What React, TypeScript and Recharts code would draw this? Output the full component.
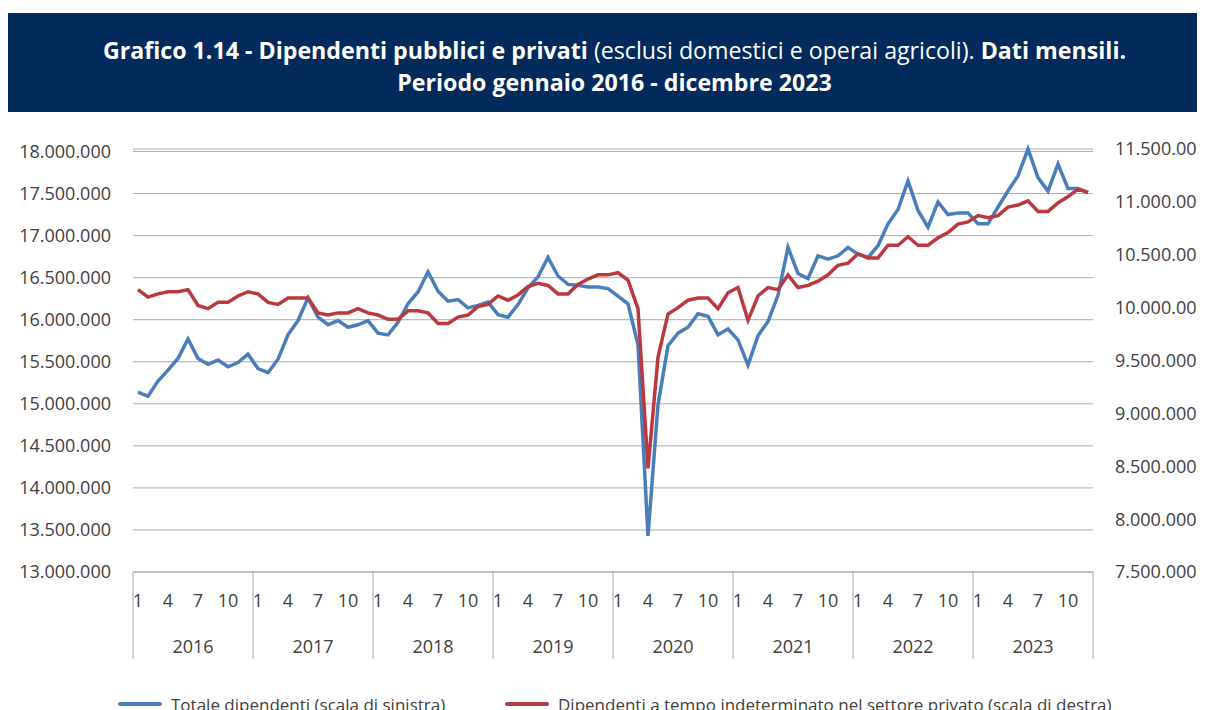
import React from "react";
import { CartesianGrid, Legend, Line, LineChart, XAxis, YAxis } from "recharts";

const years = [2016, 2017, 2018, 2019, 2020, 2021, 2022, 2023];
const months = [1, 2, 3, 4, 5, 6, 7, 8, 9, 10, 11, 12];
const shownMonths = [1, 4, 7, 10];

// Totale dipendenti (scala di sinistra)
const totaleDipendenti = [
  15140000, 15090000, 15270000, 15400000, 15540000, 15770000, 15540000, 15470000, 15520000, 15440000, 15490000, 15590000,
  15420000, 15370000, 15530000, 15820000, 15990000, 16260000, 16030000, 15940000, 15990000, 15910000, 15940000, 15990000,
  15840000, 15820000, 15970000, 16190000, 16330000, 16570000, 16340000, 16220000, 16240000, 16140000, 16170000, 16210000,
  16060000, 16030000, 16180000, 16380000, 16510000, 16740000, 16520000, 16420000, 16410000, 16390000, 16390000, 16370000,
  16280000, 16190000, 15700000, 13430000, 14990000, 15690000, 15840000, 15910000, 16070000, 16040000, 15820000, 15890000,
  15760000, 15460000, 15810000, 15980000, 16290000, 16860000, 16550000, 16490000, 16760000, 16720000, 16760000, 16860000,
  16780000, 16740000, 16880000, 17140000, 17310000, 17650000, 17300000, 17100000, 17400000, 17250000, 17270000, 17270000,
  17140000, 17140000, 17340000, 17530000, 17710000, 18030000, 17690000, 17530000, 17850000, 17560000, 17560000, 17510000
];

// Dipendenti a tempo indeterminato nel settore privato (scala di destra)
const indeterminatoPrivato = [
  10170000, 10100000, 10130000, 10150000, 10150000, 10170000, 10020000, 9990000, 10050000, 10050000, 10110000, 10150000,
  10130000, 10050000, 10030000, 10090000, 10090000, 10090000, 9950000, 9930000, 9950000, 9950000, 9990000, 9950000,
  9930000, 9890000, 9890000, 9970000, 9970000, 9950000, 9850000, 9850000, 9910000, 9930000, 10010000, 10030000,
  10110000, 10070000, 10120000, 10200000, 10230000, 10210000, 10130000, 10130000, 10220000, 10270000, 10310000, 10310000,
  10330000, 10260000, 9990000, 8480000, 9530000, 9940000, 10000000, 10070000, 10090000, 10090000, 9990000, 10140000,
  10190000, 9880000, 10110000, 10190000, 10170000, 10310000, 10190000, 10210000, 10250000, 10310000, 10400000, 10420000,
  10510000, 10470000, 10470000, 10590000, 10590000, 10670000, 10590000, 10590000, 10660000, 10710000, 10790000, 10810000,
  10870000, 10850000, 10870000, 10950000, 10970000, 11010000, 10910000, 10910000, 10990000, 11050000, 11120000, 11090000
];

const leftTicks = [
  13000000, 13500000, 14000000, 14500000, 15000000, 15500000, 16000000, 16500000, 17000000, 17500000, 18000000
];
const rightTicks = [7500000, 8000000, 8500000, 9000000, 9500000, 10000000, 10500000, 11000000, 11500000];

const seriesNames = [
  "Totale dipendenti (scala di sinistra)",
  "Dipendenti a tempo indeterminato nel settore privato (scala di destra)"
];

const data = years.flatMap((year, yi) =>
  months.map((month, mi) => ({
    key: `${year}-${month}`,
    totale: totaleDipendenti[yi * 12 + mi],
    indeterminato: indeterminatoPrivato[yi * 12 + mi]
  }))
);

const FONT = "'Open Sans', sans-serif";
const TEXT = "#404040";
const GRID = "#ababab";
const BLUE = "#4a7ebb";
const RED = "#b9393f";
const HALF_STEP = 5; // half a month on the category axis

const fmt = (v: number) => String(v).replace(/\B(?=(\d{3})+(?!\d))/g, ".");

function MonthYearTick(props: any) {
  const { x, y, payload } = props;
  const [yearStr, monthStr] = String(payload.value).split("-");
  const month = Number(monthStr);
  const isLast = payload.value === data[data.length - 1].key;
  return (
    <g>
      {shownMonths.includes(month) && (
        <text x={x} y={y + 29} textAnchor="middle" dy="0.355em" fill={TEXT} fontSize={18} fontFamily={FONT}>
          {month}
        </text>
      )}
      {month === 1 && <line x1={x - HALF_STEP} x2={x - HALF_STEP} y1={y} y2={y + 87} stroke={GRID} />}
      {isLast && <line x1={x + HALF_STEP} x2={x + HALF_STEP} y1={y} y2={y + 87} stroke={GRID} />}
      {month === 7 && (
        <text x={x - HALF_STEP} y={y + 75} textAnchor="middle" dy="0.355em" fill={TEXT} fontSize={18} fontFamily={FONT}>
          {yearStr}
        </text>
      )}
    </g>
  );
}

function LegendContent() {
  const item = (left: number, color: string, label: string) => (
    <div style={{ position: "absolute", left, top: 0, height: 36, display: "flex", alignItems: "center" }}>
      <span style={{ width: 44, height: 4, background: color, borderRadius: 2, marginRight: 9 }} />
      <span style={{ fontFamily: FONT, fontSize: 17, color: TEXT, whiteSpace: "nowrap" }}>{label}</span>
    </div>
  );
  return (
    <div style={{ position: "relative", height: 36 }}>
      {item(110, BLUE, seriesNames[0])}
      {item(497, RED, seriesNames[1])}
    </div>
  );
}

export default function App() {
  return (
    <div style={{ paddingTop: 5, width: 1197 }}>
      <style>{"body{overflow:hidden} .recharts-surface{overflow:visible}"}</style>
      <div
        style={{
          background: "#022a5a",
          width: 1205,
          height: 99,
          boxSizing: "border-box",
          paddingTop: 6,
          paddingRight: 8,
          paddingLeft: 16,
          color: "#fff",
          fontFamily: FONT,
          fontSize: 23.2,
          lineHeight: "32px",
          textAlign: "center",
          display: "flex",
          flexDirection: "column",
          justifyContent: "center"
        }}
      >
        <div>
          <b>Grafico 1.14 - Dipendenti pubblici e privati</b> (esclusi domestici e operai agricoli).{" "}
          <b>Dati mensili.</b>
        </div>
        <div>
          <b>Periodo gennaio 2016 - dicembre 2023</b>
        </div>
      </div>
      <LineChart width={1197} height={610} data={data} margin={{ top: 37, right: 0, bottom: 0, left: 0 }}>
        <CartesianGrid yAxisId="left" vertical={false} stroke={GRID} />
        <XAxis
          dataKey="key"
          interval={0}
          padding={{ left: HALF_STEP, right: HALF_STEP }}
          tickLine={false}
          tickSize={0}
          tickMargin={0}
          height={114}
          axisLine={{ stroke: GRID }}
          tick={MonthYearTick}
        />
        <YAxis
          yAxisId="left"
          domain={[13000000, 18000000]}
          ticks={leftTicks}
          interval={0}
          width={125}
          axisLine={false}
          tickLine={false}
          tickSize={0}
          tickMargin={22}
          tickFormatter={fmt}
          tick={{ fill: TEXT, fontSize: 18, fontFamily: FONT }}
        />
        <YAxis
          yAxisId="right"
          orientation="right"
          domain={[7500000, 11500000]}
          ticks={rightTicks}
          interval={0}
          width={112}
          axisLine={false}
          tickLine={false}
          tickSize={0}
          tickMargin={22}
          tickFormatter={fmt}
          tick={{ fill: TEXT, fontSize: 18, fontFamily: FONT, textAnchor: "start" }}
        />
        <Legend verticalAlign="bottom" content={LegendContent} />
        <Line
          yAxisId="left"
          type="linear"
          dataKey="totale"
          name={seriesNames[0]}
          stroke={BLUE}
          strokeWidth={3.5}
          dot={false}
          isAnimationActive={false}
        />
        <Line
          yAxisId="right"
          type="linear"
          dataKey="indeterminato"
          name={seriesNames[1]}
          stroke={RED}
          strokeWidth={3.5}
          dot={false}
          isAnimationActive={false}
        />
      </LineChart>
    </div>
  );
}
